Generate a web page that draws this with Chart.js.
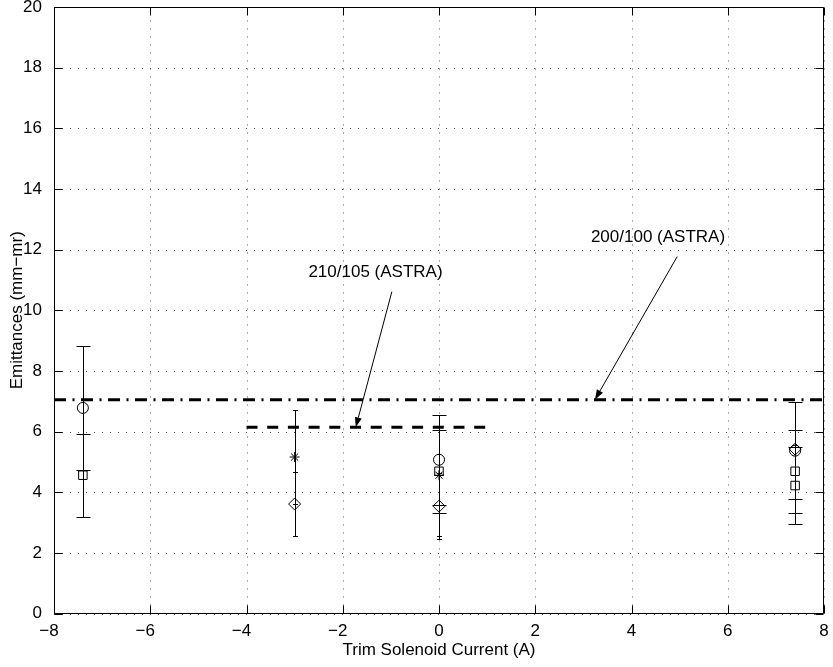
<!DOCTYPE html>
<html>
<head>
<meta charset="utf-8">
<title>Emittances vs trim solenoid current</title>
<script src="https://cdn.jsdelivr.net/npm/chart.js@4.4.0/dist/chart.umd.min.js"></script>
<style>
  html, body { margin: 0; padding: 0; background: #fff; overflow: hidden; }
  #wrap { position: relative; width: 833px; height: 667px; overflow: hidden; }
  /* canvas is taller than the page so the top tick label is not squeezed */
  #emit { position: absolute; left: 0; top: -20px; }
</style>
</head>
<body>
<div id="wrap"><canvas id="emit" width="833" height="687"></canvas></div>
<script>
var FONT = "'Liberation Sans', Arial, Helvetica, sans-serif";

var xTicks = [-8, -6, -4, -2, 0, 2, 4, 6, 8];
var yTicks = [0, 2, 4, 6, 8, 10, 12, 14, 16, 18, 20];

// measured emittances (mm-mr) with their error half-widths
var circleX = [-7.4, 0, 7.4];
var circleY = [6.78, 5.07, 5.37];
var circleErr = [2.04, 1.48, 1.59];

var squareX = [-7.4, 0, 7.4, 7.4];
var squareY = [4.56, 4.69, 4.69, 4.22];
var squareErr = [1.37, 1.37, 1.37, 1.26];

var starX = [-3, 0];
var starY = [5.16, 4.56];
var starErr = [1.54, 1.99];

var diamondX = [-3, 0, 7.4];
var diamondY = [3.61, 3.54, 5.42];
var diamondErr = [1.06, 1.09, null];

// ASTRA simulation levels
var astra200X = [-8, 8];
var astra200Y = [7.05, 7.05];
var astra210X = [-4, 1];
var astra210Y = [6.14, 6.14];

var notes = [
    { text: '210/105 (ASTRA)', x: -1.32, y: 11.10, from: [-0.98, 10.61], to: [-1.73, 6.14] },
    { text: '200/100 (ASTRA)', x: 4.55, y: 12.25, from: [4.95, 11.77], to: [3.24, 7.05] }
];

function pts(xs, ys) {
    return xs.map(function (x, i) { return { x: x, y: ys[i] }; });
}

// dotted grid underneath, box with inward ticks on top
var frame = {
    id: 'frame',
    beforeDatasetsDraw: function (chart) {
        var ctx = chart.ctx, a = chart.chartArea, sx = chart.scales.x, sy = chart.scales.y;
        ctx.save();
        ctx.strokeStyle = '#555';
        ctx.lineWidth = 1;
        ctx.setLineDash([1, 7]);
        xTicks.forEach(function (v) {
            var px = Math.round(sx.getPixelForValue(v)) + 0.5;
            ctx.beginPath(); ctx.moveTo(px, a.bottom); ctx.lineTo(px, a.top); ctx.stroke();
        });
        yTicks.forEach(function (v) {
            var py = Math.round(sy.getPixelForValue(v)) + 0.5;
            ctx.beginPath(); ctx.moveTo(a.left, py); ctx.lineTo(a.right, py); ctx.stroke();
        });
        ctx.restore();
    },
    afterDatasetsDraw: function (chart) {
        var ctx = chart.ctx, a = chart.chartArea, sx = chart.scales.x, sy = chart.scales.y;
        var L = Math.round(a.left) + 0.5, R = Math.round(a.right) - 0.5;
        var T = Math.round(a.top) + 0.5, B = Math.round(a.bottom) - 0.5;
        ctx.save();
        ctx.strokeStyle = '#000';
        ctx.lineWidth = 1;
        ctx.beginPath();
        ctx.rect(L, T, R - L, B - T);
        xTicks.forEach(function (v) {
            var px = Math.round(sx.getPixelForValue(v)) + 0.5;
            ctx.moveTo(px, B); ctx.lineTo(px, B - 8);
            ctx.moveTo(px, T); ctx.lineTo(px, T + 8);
        });
        yTicks.forEach(function (v) {
            var py = Math.round(sy.getPixelForValue(v)) + 0.5;
            ctx.moveTo(L, py); ctx.lineTo(L + 8, py);
            ctx.moveTo(R, py); ctx.lineTo(R - 8, py);
        });
        ctx.stroke();
        ctx.restore();
    },
    afterDraw: function (chart) {
        var ctx = chart.ctx, a = chart.chartArea, sx = chart.scales.x, sy = chart.scales.y;
        ctx.save();
        ctx.fillStyle = '#000';
        ctx.strokeStyle = '#000';
        ctx.font = '17px ' + FONT;
        ctx.textBaseline = 'alphabetic';

        // x tick labels: digits centred on the tick, minus sign hanging to the left
        xTicks.forEach(function (v) {
            var px = sx.getPixelForValue(v), digits = '' + Math.abs(v);
            var w = ctx.measureText(digits).width;
            ctx.textAlign = 'center';
            ctx.fillText(digits, px, a.bottom + 22);
            if (v < 0) {
                ctx.textAlign = 'right';
                ctx.fillText('\u2212', px - w / 2, a.bottom + 22);
            }
        });

        ctx.textAlign = 'center';
        ctx.fillText('Trim Solenoid Current (A)', (a.left + a.right) / 2, a.bottom + 41.5);
        ctx.save();
        ctx.translate(21.5, (a.top + a.bottom) / 2);
        ctx.rotate(-Math.PI / 2);
        ctx.fillText('Emittances (mm\u2212mr)', 0, 0);
        ctx.restore();

        notes.forEach(function (n) {
            ctx.fillText(n.text, sx.getPixelForValue(n.x), sy.getPixelForValue(n.y));
            var x0 = sx.getPixelForValue(n.from[0]), y0 = sy.getPixelForValue(n.from[1]);
            var x1 = sx.getPixelForValue(n.to[0]), y1 = sy.getPixelForValue(n.to[1]);
            var ang = Math.atan2(y1 - y0, x1 - x0);
            var hl = 10, hw = 3.5;
            var bx = x1 - hl * Math.cos(ang), by = y1 - hl * Math.sin(ang);
            ctx.lineWidth = 1;
            ctx.beginPath(); ctx.moveTo(x0, y0); ctx.lineTo(bx, by); ctx.stroke();
            ctx.beginPath();
            ctx.moveTo(x1, y1);
            ctx.lineTo(bx + hw * Math.sin(ang), by - hw * Math.cos(ang));
            ctx.lineTo(bx - hw * Math.sin(ang), by + hw * Math.cos(ang));
            ctx.closePath();
            ctx.fill();
        });
        ctx.restore();
    }
};

// vertical error bars with end caps
var errorBars = {
    id: 'errorBars',
    beforeDatasetsDraw: function (chart) {
        var ctx = chart.ctx, sx = chart.scales.x, sy = chart.scales.y;
        ctx.save();
        ctx.strokeStyle = '#000';
        ctx.lineWidth = 1;
        chart.data.datasets.forEach(function (ds) {
            if (!ds.errors) return;
            ds.data.forEach(function (p, i) {
                var e = ds.errors[i];
                if (e == null) return;
                var px = Math.round(sx.getPixelForValue(p.x)) + 0.5;
                var top = Math.round(sy.getPixelForValue(p.y + e)) + 0.5;
                var bot = Math.round(sy.getPixelForValue(p.y - e)) + 0.5;
                ctx.beginPath();
                ctx.moveTo(px, top); ctx.lineTo(px, bot);
                ctx.moveTo(px - ds.capHalf, top); ctx.lineTo(px + ds.capHalf, top);
                ctx.moveTo(px - ds.capHalf, bot); ctx.lineTo(px + ds.capHalf, bot);
                ctx.stroke();
            });
        });
        ctx.restore();
    }
};

function markerSet(xs, ys, errs, style, r, cap) {
    return {
        type: 'scatter',
        data: pts(xs, ys),
        errors: errs,
        capHalf: cap,
        pointStyle: style,
        pointRadius: r,
        pointBorderWidth: 1,
        pointBorderColor: '#000',
        pointBackgroundColor: 'rgba(0,0,0,0)',
        showLine: false
    };
}

var ctx = document.getElementById('emit').getContext('2d');
var emitChart = new Chart(ctx, {
    type: 'scatter',
    data: {
        datasets: [
            {
                type: 'line',
                data: pts(astra200X, astra200Y),
                borderColor: '#000',
                borderWidth: 3,
                borderDash: [12, 6.5, 2, 6.5],
                pointRadius: 0,
                fill: false
            },
            {
                type: 'line',
                data: pts(astra210X, astra210Y),
                borderColor: '#000',
                borderWidth: 3,
                borderDash: [11, 9.7],
                pointRadius: 0,
                fill: false
            },
            markerSet(circleX, circleY, circleErr, 'circle', 5.5, 7),
            markerSet(squareX, squareY, squareErr, 'rect', 6, 7),
            markerSet(starX, starY, starErr, 'star', 5, 2.5),
            markerSet(diamondX, diamondY, diamondErr, 'rectRot', 6, 2.5)
        ]
    },
    options: {
        responsive: false,
        animation: false,
        layout: { padding: { top: 27, right: 9, bottom: 0, left: 0 } },
        plugins: { legend: { display: false }, tooltip: { enabled: false } },
        scales: {
            x: {
                type: 'linear',
                min: -8,
                max: 8,
                afterBuildTicks: function (s) { s.ticks = xTicks.map(function (v) { return { value: v }; }); },
                afterFit: function (s) { s.height = 53.5; },
                grid: { display: false },
                border: { display: false },
                ticks: { display: false }
            },
            y: {
                type: 'linear',
                min: 0,
                max: 20,
                afterBuildTicks: function (s) { s.ticks = yTicks.map(function (v) { return { value: v }; }); },
                afterFit: function (s) { s.width = 54; },
                grid: { display: false },
                border: { display: false },
                ticks: {
                    padding: 4,
                    color: '#000',
                    font: { family: FONT, size: 17 }
                }
            }
        }
    },
    plugins: [frame, errorBars]
});
</script>
</body>
</html>
